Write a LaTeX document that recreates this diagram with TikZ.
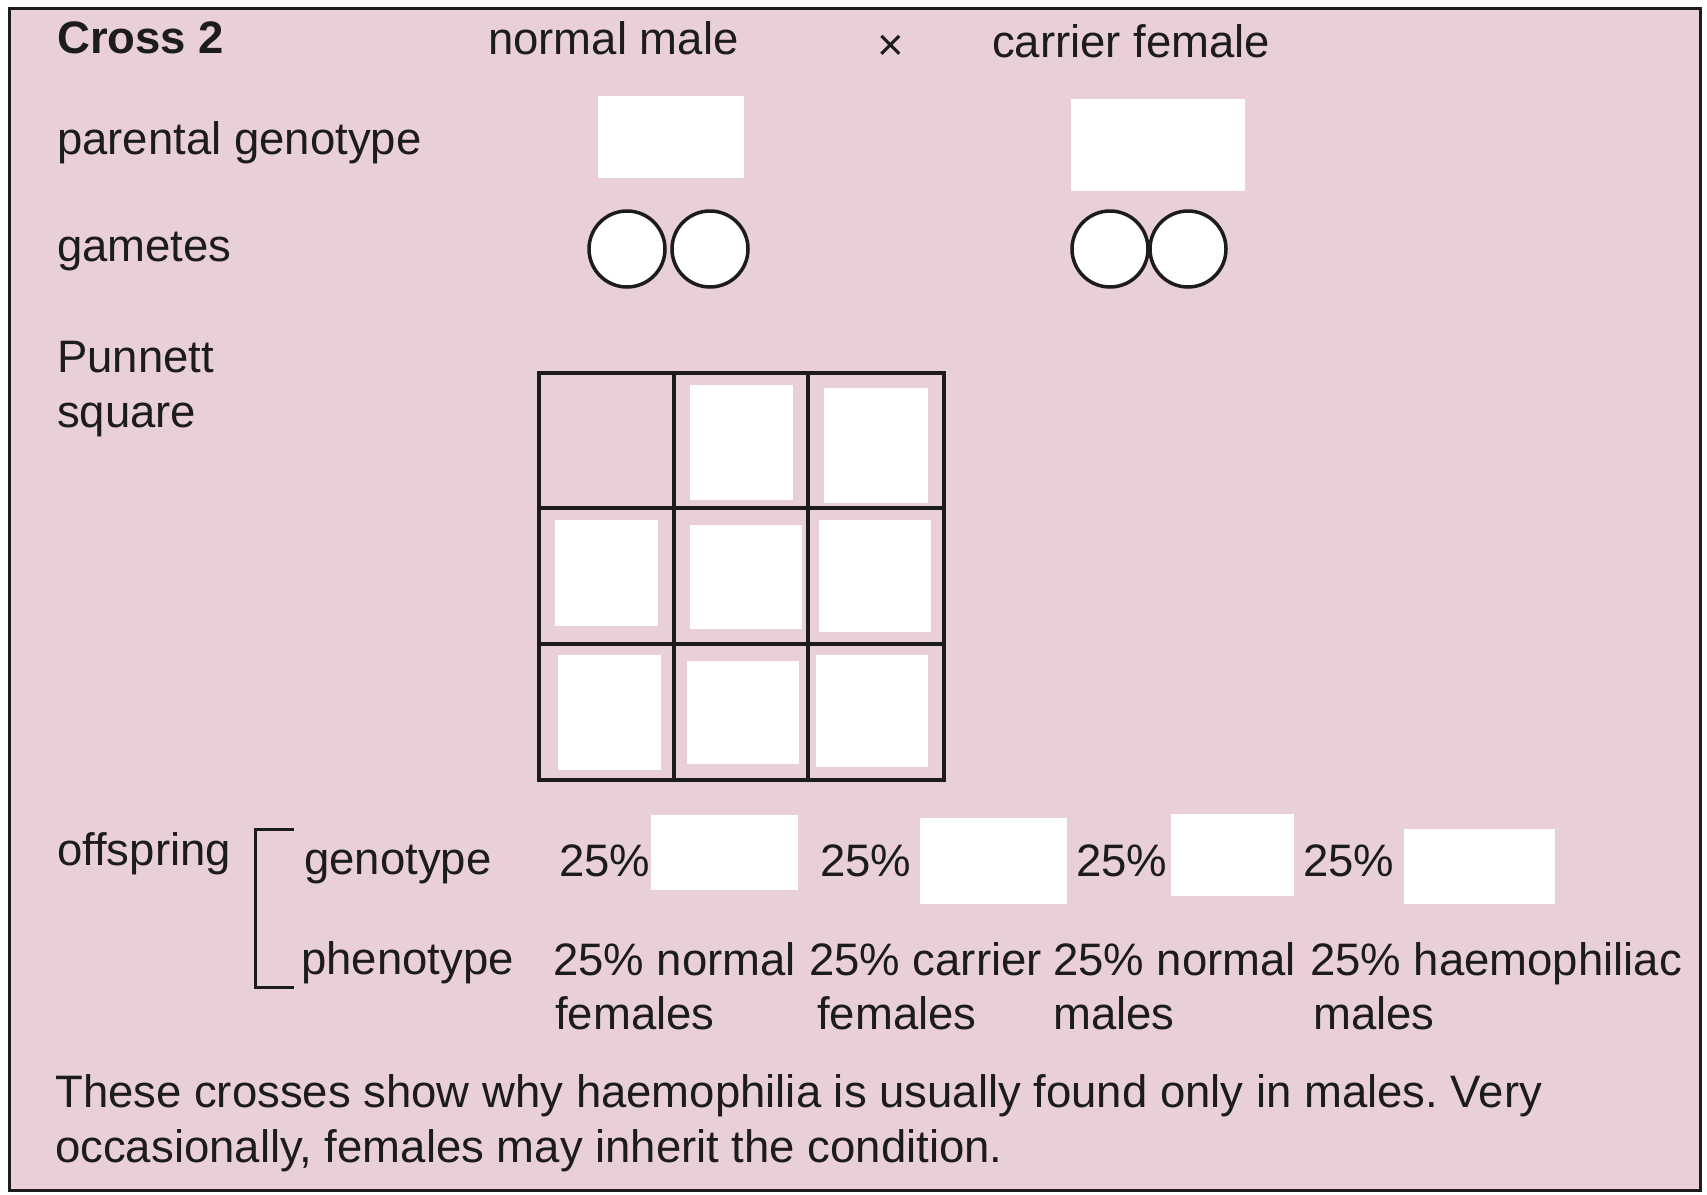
\documentclass[tikz,border=0pt]{standalone}
\usepackage{fontspec}
\setmainfont{Liberation Sans}
\frenchspacing
\definecolor{cardbg}{RGB}{233,207,214}
\definecolor{ink}{RGB}{28,28,28}
\tikzset{
    lbl/.style={inner sep=0pt, anchor=base west, text=ink, font=\fontsize{45.5}{54}\selectfont},
    blank/.style={fill=white},
    gamete/.style={draw=ink, fill=white, line width=3.5pt},
    gridline/.style={draw=ink, line width=3.5pt, line cap=rect},
}

\begin{document}
\begin{tikzpicture}[x=1pt, y=-1pt]
    \useasboundingbox (0,0) rectangle (1707,1194);
    \fill[white] (0,0) rectangle (1707,1194);
    \draw[fill=cardbg, draw=ink, line width=3pt] (9,8) rectangle (1700,1190);

    \node[lbl, font=\fontsize{45.5}{54}\selectfont\bfseries] (cross) at (57,53) {Cross 2};
    \node[lbl] (male) at (488,54) {normal male};
    \node[lbl] (times) at (877,60) {×};
    \node[lbl] (female) at (992,57) {carrier female};

    \node[lbl] (pgeno) at (57,154) {parental genotype};
    \fill[blank] (598,96) rectangle (744,178);
    \fill[blank] (1071,99) rectangle (1245,191);

    \node[lbl] (gam) at (57,261) {gametes};
    \foreach \gx in {627,710,1110,1188}
        \draw[gamete] (\gx,249) circle (38pt);

    \node[lbl] (pun) at (57,372) {Punnett};
    \node[lbl] (sq) at (57,427) {square};
    \foreach \ax/\ay/\bx/\by in {690/385/793/500, 824/388/928/503, 555/520/658/626, 690/525/802/629, 819/520/931/632, 558/655/661/770, 687/661/799/764, 816/655/928/767}
        \fill[blank] (\ax,\ay) rectangle (\bx,\by);
    \foreach \gx in {539,674,808,944}
        \draw[gridline] (\gx,373) -- (\gx,780);
    \foreach \gy in {373,508,644,780}
        \draw[gridline] (539,\gy) -- (944,\gy);

    \node[lbl] (off) at (57,865) {offspring};
    \draw[ink, line width=3pt] (294,829) -- (255,829) -- (255,987) -- (294,987);
    \node[lbl] (geno) at (304,874) {genotype};
    \node[lbl] (pheno) at (301,974) {phenotype};

    \foreach \px/\k in {559/1, 820/2, 1076/3, 1303/4}
        \node[lbl] (pct\k) at (\px,876) {25\%};
    \fill[blank] (651,815) rectangle (798,890);
    \fill[blank] (920,818) rectangle (1067,904);
    \fill[blank] (1171,814) rectangle (1294,896);
    \fill[blank] (1404,829) rectangle (1555,904);

    \node[lbl] (ph1) at (553,975) {25\% normal};
    \node[lbl] (ph1b) at (555,1029) {females};
    \node[lbl] (ph2) at (809,975) {25\% carrier};
    \node[lbl] (ph2b) at (817,1029) {females};
    \node[lbl] (ph3) at (1053,975) {25\% normal};
    \node[lbl] (ph3b) at (1053,1029) {males};
    \node[lbl] (ph4) at (1310,975) {25\% haemophiliac};
    \node[lbl] (ph4b) at (1313,1029) {males};

    \node[lbl] (note1) at (55,1107) {These crosses show why haemophilia is usually found only in males. Very};
    \node[lbl] (note2) at (55,1162) {occasionally, females may inherit the condition.};
\end{tikzpicture}
\end{document}
